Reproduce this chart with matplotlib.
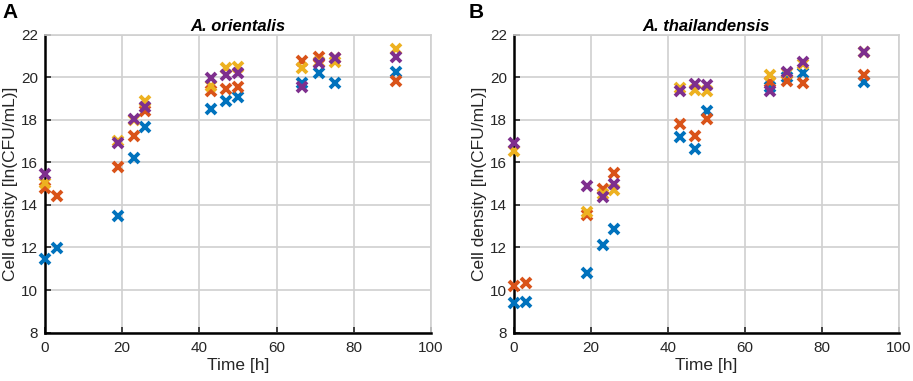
import numpy as np
import matplotlib
matplotlib.use('Agg')
import matplotlib.pyplot as plt

plt.rcParams['font.family'] = ['Liberation Sans', 'DejaVu Sans']

# sampling times [h]
time = [0, 3, 19, 23, 26, 43, 47, 50, 66.5, 71, 75, 91]

# A. orientalis, four replicates (nan = not sampled)
nan = np.nan
ori_blue = [11.45, 11.96, 13.48, 16.22, 17.68, 18.49, 18.9, 19.09, 19.71, 20.21, 19.74, 20.23]
ori_orange = [14.78, 14.42, 15.8, 17.26, 18.43, 19.35, 19.43, 19.56, 20.78, 20.93, 20.9, 19.82]
ori_yellow = [15.02, nan, 17.0, 18.0, 18.88, 19.6, 20.45, 20.5, 20.45, 20.7, 20.73, 21.33]
ori_purple = [15.44, nan, 16.93, 18.04, 18.59, 19.95, 20.1, 20.18, 19.56, 20.65, 20.89, 20.94]

# A. thailandensis
tha_blue = [9.41, 9.46, 10.82, 12.12, 12.85, 17.21, 16.61, 18.41, 19.56, 20.0, 20.21, 19.76]
tha_orange = [10.21, 10.35, 13.53, 14.77, 15.52, 17.79, 17.24, 18.02, 19.79, 19.82, 19.71, 20.1]
tha_yellow = [16.55, nan, 13.65, 14.5, 14.7, 19.48, 19.4, 19.37, 20.1, 20.2, 20.6, 21.2]
tha_purple = [16.9, nan, 14.91, 14.36, 14.98, 19.37, 19.68, 19.64, 19.35, 20.23, 20.7, 21.17]

colors = ['#0072BD', '#D95319', '#EDB120', '#7E2F8E']

fig = plt.figure(figsize=(9.13, 3.81), dpi=100)
ax1 = fig.add_axes([45/913, 0.127, 386/913, 0.782])
ax2 = fig.add_axes([514/913, 0.127, 385/913, 0.782])

panels = [
    (ax1, 'A. orientalis', 'A', [ori_blue, ori_orange, ori_yellow, ori_purple]),
    (ax2, 'A. thailandensis', 'B', [tha_blue, tha_orange, tha_yellow, tha_purple]),
]

for ax, title, letter, series in panels:
    for ys, c in zip(series, colors):
        ax.plot(time, ys, linestyle='none', marker='x', ms=7, mew=2.8, color=c,
                clip_on=False, zorder=3)
    ax.set_xlim(0, 100)
    ax.set_ylim(8, 22)
    ax.set_xticks(range(0, 101, 20))
    ax.set_yticks(range(8, 23, 2))
    ax.grid(True, color='#d0d0d0', linewidth=1.2)
    ax.set_axisbelow(True)
    for s in ['top', 'right']:
        ax.spines[s].set_color('#d0d0d0')
        ax.spines[s].set_linewidth(1.2)
    for s in ['left', 'bottom']:
        ax.spines[s].set_linewidth(1.8)
    ax.tick_params(direction='in', length=4, width=1.2, labelsize=11, colors='#262626',
                   labelcolor='#262626')
    ax.tick_params(axis='x', pad=6)
    ax.tick_params(axis='y', pad=5)
    ax.set_xlabel('Time [h]', fontsize=12.5, color='#262626', labelpad=2)
    ax.set_ylabel('Cell density [ln(CFU/mL)]', fontsize=12.5, color='#262626', labelpad=2)
    ax.set_title(title, fontsize=12, fontweight='bold', fontstyle='italic', pad=3)

fig.text(2/913, 1 - 3/381, 'A', fontsize=15, fontweight='bold', va='top', ha='left')
fig.text(469/913, 1 - 3/381, 'B', fontsize=15, fontweight='bold', va='top', ha='left')

fig.savefig('out.png', dpi=100)
